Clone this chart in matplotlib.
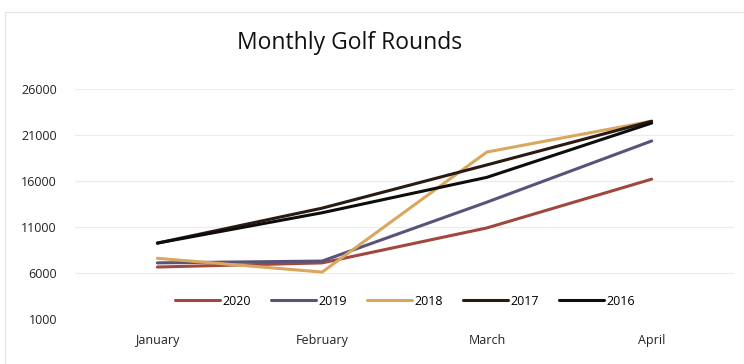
import matplotlib
matplotlib.use("Agg")
import matplotlib.pyplot as plt
from matplotlib.patches import Rectangle

# Monthly rounds per season
months = ["January", "February", "March", "April"]
years = ["2020", "2019", "2018", "2017", "2016"]
rounds_2020 = [6650, 7100, 10900, 16200]
rounds_2019 = [7100, 7300, 13700, 20350]
rounds_2018 = [7600, 6100, 19150, 22500]
rounds_2017 = [9250, 13050, 17750, 22500]
rounds_2016 = [9250, 12550, 16400, 22300]
y_ticks = [1000, 6000, 11000, 16000, 21000, 26000]

series = [rounds_2020, rounds_2019, rounds_2018, rounds_2017, rounds_2016]
colors = ["#a0483e", "#58537a", "#d9a75e", "#2b1a14", "#0d0d0d"]

plt.rcParams["font.family"] = ["Open Sans", "DejaVu Sans"]

fig = plt.figure(figsize=(7.44, 3.64), dpi=100)
ax = fig.add_axes([0.1008, 0.1236, 0.8858, 0.6319])

# faint chart-area border
fig.patches.append(Rectangle((0.007, -0.05), 1.1, 1.017, transform=fig.transFigure,
                             fill=False, edgecolor="#e4e4e4", linewidth=0.8))

x = range(len(months))
for year, vals, c in zip(years, series, colors):
    ax.plot(x, vals, color=c, linewidth=2.2, label=year, solid_capstyle="round")

ax.set_xlim(-0.5, len(months) - 0.5)
ax.set_ylim(1000, 26000)
ax.set_yticks(y_ticks)
ax.set_yticklabels([str(t) for t in y_ticks])
ax.set_xticks(list(x))
ax.set_xticklabels(months)
ax.tick_params(axis="both", length=0, labelsize=9, colors="#222222")
ax.tick_params(axis="y", pad=13)
ax.tick_params(axis="x", pad=11)
ax.yaxis.grid(True, color="#ececec", linewidth=0.8)
ax.set_axisbelow(True)
for s in ax.spines.values():
    s.set_visible(False)

fig.text(0.47, 0.882, "Monthly Golf Rounds", ha="center", va="center",
         fontsize=16.5, color="#111111")

fig.legend(loc="center", bbox_to_anchor=(0.545, 0.173), ncol=5, frameon=False,
           fontsize=9, handlelength=3.6, handletextpad=0.2, columnspacing=1.6)

fig.savefig("out.png", dpi=100)
plt.close(fig)
